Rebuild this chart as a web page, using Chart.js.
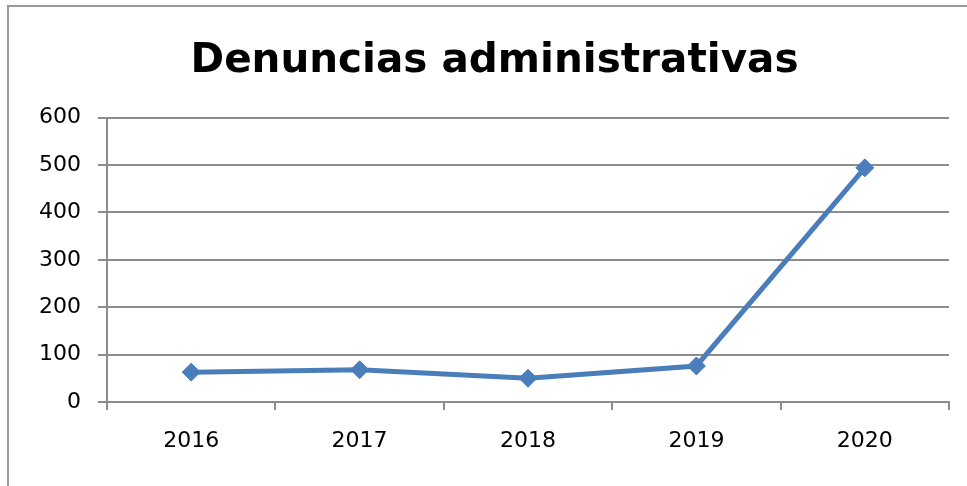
<!DOCTYPE html>
<html>
<head>
<meta charset="utf-8">
<script src="https://cdn.jsdelivr.net/npm/chart.js@4/dist/chart.umd.min.js"></script>
<style>
  body { margin: 0; background: #fff; }
  #caja { position: relative; width: 967px; height: 486px; }
  #marco { position: absolute; left: 7px; top: 5px; right: 0; bottom: 0; border-left: 2px solid #9a9a9a; border-top: 2px solid #9a9a9a; }
  canvas { position: absolute; left: 0; top: 0; }
</style>
</head>
<body>
<div id="caja">
  <div id="marco"></div>
  <canvas id="graficoDenuncias" width="967" height="486"></canvas>
</div>
<script>
// ---- datos
const anios = ['2016', '2017', '2018', '2019', '2020'];
const denuncias = [63, 68, 50, 76, 494];
const tituloGrafico = 'Denuncias administrativas';

const colorLinea = '#4a7ebb';
const colorRejilla = '#8c8c8c';
const fuente = "'DejaVu Sans', sans-serif";

// corre el titulo un poco a la derecha, como en el original
const moverTitulo = {
    id: 'moverTitulo',
    afterLayout(chart) {
        if (chart.titleBlock) {
            chart.titleBlock.left += 15;
            chart.titleBlock.right += 15;
        }
    }
};

const ctx = document.getElementById('graficoDenuncias').getContext('2d');
let graficoDenuncias = new Chart(ctx, {
    type: 'line',
    data: {
        labels: anios,
        datasets: [{
            label: 'Denuncias',
            data: denuncias,
            borderColor: colorLinea,
            backgroundColor: colorLinea,
            borderWidth: 5,
            pointStyle: 'rectRot',
            pointRadius: 9,
            pointBorderWidth: 1,
            pointBackgroundColor: colorLinea,
            pointBorderColor: colorLinea,
            tension: 0
        }]
    },
    options: {
        responsive: false,
        animation: false,
        devicePixelRatio: 1,
        layout: {
            padding: { left: 10, right: 18, top: 14, bottom: 0 }
        },
        plugins: {
            legend: { display: false },
            tooltip: { enabled: false },
            title: {
                display: true,
                text: tituloGrafico,
                color: '#000',
                font: { family: fuente, size: 40.5, weight: 'bold' },
                padding: { top: 23, bottom: 32 }
            }
        },
        scales: {
            x: {
                offset: true,
                grid: {
                    offset: true,
                    drawOnChartArea: false,
                    drawTicks: true,
                    tickLength: 8,
                    color: colorRejilla,
                    lineWidth: 2
                },
                border: { color: colorRejilla, width: 2 },
                ticks: {
                    color: '#000',
                    font: { family: fuente, size: 22 },
                    padding: 18,
                    maxRotation: 0
                },
                afterFit: (escala) => { escala.height = 84; } // alto fijo del eje X
            },
            y: {
                min: 0,
                max: 600,
                ticks: {
                    stepSize: 100,
                    color: '#000',
                    font: { family: fuente, size: 22 },
                    padding: 17
                },
                grid: {
                    color: colorRejilla,
                    lineWidth: 2,
                    tickLength: 9
                },
                border: { color: colorRejilla, width: 2 },
                afterFit: (escala) => { escala.width = 97; } // ancho fijo del eje Y
            }
        }
    },
    plugins: [moverTitulo]
});
</script>
</body>
</html>
